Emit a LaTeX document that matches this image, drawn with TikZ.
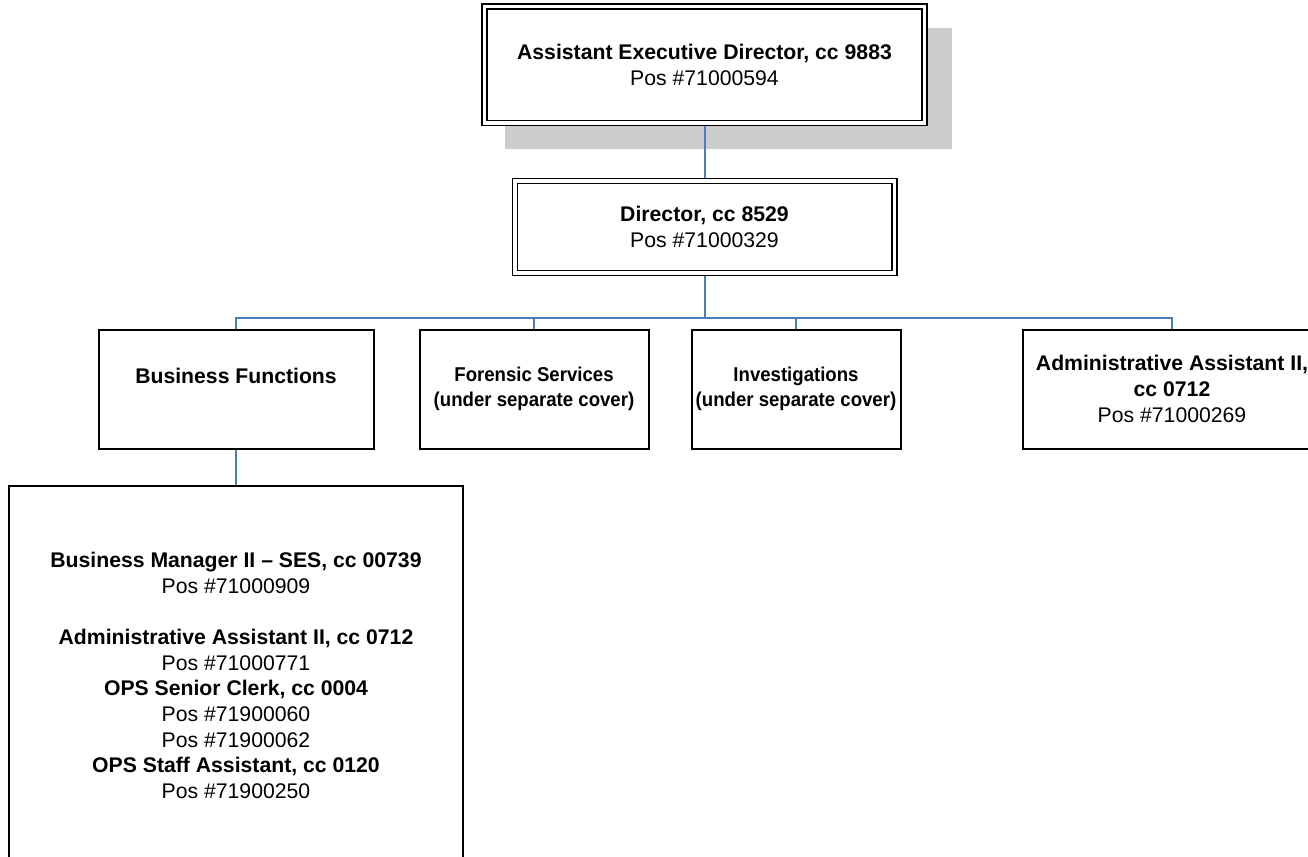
\documentclass[tikz,border=0pt]{standalone}
\usepackage{fontspec}
\setmainfont{Liberation Sans}
\usetikzlibrary{backgrounds}
\definecolor{linkblue}{HTML}{4A7EBB}
\definecolor{shadowgray}{HTML}{CCCCCC}
% a centred line of slightly condensed bold text
\newcommand{\narrowline}[1]{\makebox[0pt]{\scalebox{0.93}[1]{\bfseries #1}}}
\begin{document}
\begin{tikzpicture}[x=1pt,y=-1pt,
  every node/.style={font=\fontsize{21.2}{26}\selectfont, align=center, inner sep=0pt, outer sep=0pt},
  box/.style={draw=black, line width=2pt, fill=white},
  dbox/.style={draw=black, line width=1.5pt, double=white, double distance=3.5pt, fill=white},
  small/.style={font=\fontsize{20}{25}\selectfont},
  link/.style={draw=linkblue, line width=2pt}]
\useasboundingbox (0,0) rectangle (1308,856);

% top level and director
\node[dbox, minimum width=440pt, minimum height=116.5pt] (aed) at (704.5,64.75)
  {\bfseries Assistant Executive Director, cc 9883\\Pos \#71000594};
\node[dbox, minimum width=379.5pt, minimum height=92pt] (dir) at (704.5,227)
  {\bfseries Director, cc 8529\\Pos \#71000329};

% units under the director
\node[box, minimum width=275pt, minimum height=119pt] (bf) at (236,389)
  {\bfseries Business Functions\\\mbox{}};
\node[box, small, minimum width=229pt, minimum height=119pt] (fs) at (534,389)
  {\narrowline{Forensic Services}\\\narrowline{(under separate cover)}};
\node[box, small, minimum width=209pt, minimum height=119pt] (inv) at (796,389)
  {\narrowline{Investigations}\\\narrowline{(under separate cover)}};
\node[box, minimum width=298pt, minimum height=119pt] (aa) at (1172,389)
  {\bfseries Administrative Assistant II,\\\bfseries cc 0712\\Pos \#71000269};

% business functions staff
\node[box, minimum width=454pt, minimum height=379pt,
      font=\fontsize{21.2}{25.6}\selectfont] (staff) at (236,675.5)
  {\bfseries Business Manager II -- SES, cc 00739\\Pos \#71000909\\[25.6pt]
   \bfseries Administrative Assistant II, cc 0712\\Pos \#71000771\\
   \bfseries OPS Senior Clerk, cc 0004\\Pos \#71900060\\Pos \#71900062\\
   \bfseries OPS Staff Assistant, cc 0120\\Pos \#71900250};

\begin{scope}[on background layer]
  \fill[shadowgray] (505,28) rectangle (952,149);
  \draw[link] (aed.south) -- (dir.north);
  \coordinate (bus) at (704.5,317.5);
  \draw[link] (dir.south) -- (bus) -| (bf.north);
  \draw[link] (bus) -| (fs.north);
  \draw[link] (bus) -| (inv.north);
  \draw[link] (bus) -| (aa.north);
  \draw[link] (bf.south) -- (staff.north);
\end{scope}
\end{tikzpicture}
\end{document}
